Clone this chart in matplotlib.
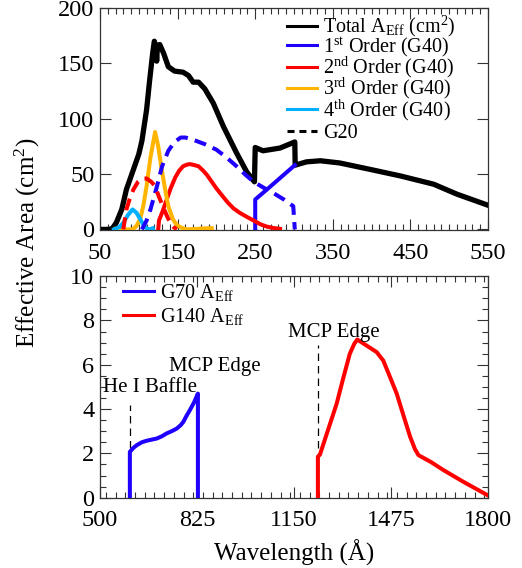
import numpy as np
import matplotlib
matplotlib.use("Agg")
import matplotlib.pyplot as plt
from matplotlib.lines import Line2D
from matplotlib.ticker import MultipleLocator

plt.rcParams['font.family'] = ['Liberation Serif', 'DejaVu Serif']
plt.rcParams['mathtext.fontset'] = 'custom'
plt.rcParams['mathtext.rm'] = 'Liberation Serif'
plt.rcParams['mathtext.it'] = 'Liberation Serif:italic'
plt.rcParams['mathtext.bf'] = 'Liberation Serif:bold'

# --- top panel: G40 / G20 effective area (cm^2) vs wavelength (A) ---
lam_total = [50, 62, 66, 71, 78, 84, 93, 100, 104, 110, 114, 118, 120, 122, 123, 124,
             127, 132, 138, 146, 157, 164, 170, 177, 185, 196, 209, 226, 239, 249,
             250, 260, 282, 301, 301.5, 316, 334, 359, 402, 437, 480, 510, 550]
a_total = [0, 0, 1, 6, 18, 36, 54, 68, 80, 108, 135, 160, 170, 165, 152, 166,
           167, 159, 147, 143, 142, 139, 133, 133, 127, 114, 93, 69, 52, 43,
           74, 71, 73.5, 79, 58, 61, 62, 60, 53.6, 48.3, 40.8, 31.8, 21.8]

lam_o1 = [250, 250, 265, 301]
a_o1 = [0, 27, 36, 58]

lam_o2 = [125, 126, 131, 136, 141, 147, 152, 157, 162, 166, 172, 177, 183, 188, 194,
          200, 208, 215, 222, 230, 240, 248, 257, 265, 274, 282]
a_o2 = [0, 8, 17, 27, 37, 47, 53, 57, 58.5, 59, 58, 57, 53, 49, 43,
        37, 30, 24, 19, 15, 11, 8, 4.5, 2.5, 1.2, 0.5]

lam_o3 = [70, 80, 92, 97, 102, 106, 110, 115, 121, 125, 129.5, 134, 138, 144, 149,
          155, 162, 175, 188, 194]
a_o3 = [0.5, 0, 0, 3, 10, 22, 39, 65, 88, 75, 54, 36, 21, 9, 4,
        1.5, 0, 0.5, 1, 1]

lam_o4 = [68, 75, 80, 86, 92, 97, 102, 106, 110, 113, 118]
a_o4 = [0, 2, 6, 13, 18, 15, 9, 4, 1, 0, 1]

lam_g20_o1 = [104, 110, 115, 123, 130, 138, 146, 154, 160, 170, 185, 200, 213, 226,
              238, 248, 260, 273, 287, 299, 301]
a_g20_o1 = [0, 8, 18, 38, 57, 71, 79, 83, 83, 81, 77, 72, 65, 57,
            49, 43, 38, 33, 27, 21, 0]

lam_g20_o2 = [80, 84, 88, 93, 99, 104, 110, 116, 120, 124, 128, 132, 137, 141, 145, 149]
a_g20_o2 = [0, 18, 27, 36, 43, 46, 46, 43, 40, 33, 26, 19, 11, 5, 2, 0]

# --- bottom panel: G70 / G140 ---
lam_g70 = [600, 600, 612, 623, 640, 656, 673, 690, 707, 723, 740, 757, 770, 779,
           790, 801, 815, 828, 828]
a_g70 = [0, 2.07, 2.25, 2.37, 2.5, 2.57, 2.62, 2.67, 2.77, 2.9, 3.0, 3.12, 3.27, 3.42,
         3.7, 3.95, 4.3, 4.7, 0]

lam_g140 = [1230, 1230, 1237, 1265, 1293, 1315, 1337, 1352, 1362, 1395, 1427, 1449,
            1470, 1494, 1517, 1539, 1555, 1567, 1610, 1650, 1717, 1800]
a_g140 = [0, 1.85, 1.95, 3.1, 4.25, 5.4, 6.5, 6.95, 7.14, 6.85, 6.57, 6.19,
          5.5, 4.7, 3.7, 2.75, 2.2, 1.92, 1.6, 1.25, 0.72, 0.1]

edge_lam = [600, 828, 1230]
edge_top = [4.17, 4.7, 6.9]
edge_names = ["He I Baffle", "MCP Edge", "MCP Edge"]
edge_text_pos = [(511, 4.77), (732, 5.74), (1131, 7.27)]

BLUE = '#1f00ff'
RED = '#ff0000'
ORANGE = '#ffb400'
CYAN = '#00b0ff'
G20_DASH = (3.0, 1.8)
LEG_KW = dict(frameon=False, fontsize=14.5, handlelength=1.5, handletextpad=0.3,
              borderpad=0.0, borderaxespad=0.0)

fig = plt.figure(figsize=(5.22, 5.68), dpi=100)
ax1 = fig.add_axes([0.1916, 0.5942, 0.7433, 0.3917])
ax2 = fig.add_axes([0.1916, 0.1238, 0.7433, 0.3900])

ax1.plot(lam_total, a_total, color='k', lw=3.8, zorder=2)
ax1.plot(lam_o1, a_o1, color=BLUE, lw=2.9, zorder=3)
ax1.plot(lam_o2, a_o2, color=RED, lw=2.9, zorder=3)
ax1.plot(lam_o3, a_o3, color=ORANGE, lw=2.9, zorder=3)
ax1.plot(lam_o4, a_o4, color=CYAN, lw=2.9, zorder=3)
ax1.plot(lam_g20_o1, a_g20_o1, color=BLUE, lw=2.9, dashes=G20_DASH, zorder=3)
ax1.plot(lam_g20_o2, a_g20_o2, color=RED, lw=2.9, dashes=G20_DASH, zorder=3)

# the G40 orders all carry superscripts, so they get their own legend
# and the plain G20 entry sits in a second one just below
handles = [Line2D([], [], color='k', lw=2.2),
           Line2D([], [], color=BLUE, lw=2.2),
           Line2D([], [], color=RED, lw=2.2),
           Line2D([], [], color=ORANGE, lw=2.2),
           Line2D([], [], color=CYAN, lw=2.2)]
labels = [r"Total A$_{\mathrm{Eff}}$ (cm$^{2}$)",
          r"1$^{\mathrm{st}}$ Order (G40)",
          r"2$^{\mathrm{nd}}$ Order (G40)",
          r"3$^{\mathrm{rd}}$ Order (G40)",
          r"4$^{\mathrm{th}}$ Order (G40)"]
leg1 = ax1.legend(handles, labels, loc='upper left', bbox_to_anchor=(0.482, 0.972),
                  labelspacing=-0.2, **LEG_KW)
ax1.add_artist(leg1)
ax1.legend([Line2D([], [], color='k', lw=2.2, dashes=(2.3, 1.6))], ["G20"],
           loc='upper left', bbox_to_anchor=(0.482, 0.479), **LEG_KW)

ax1.set_xlim(50, 550)
ax1.set_ylim(-1, 200)
ax1.set_xticks([50, 150, 250, 350, 450, 550])
ax1.xaxis.set_minor_locator(MultipleLocator(10))
ax1.set_yticks([0, 50, 100, 150, 200])

# bottom panel
ax2.vlines(edge_lam, 0, edge_top, colors='k', lw=0.9, linestyles=(0, (6, 4)), zorder=1)
ax2.plot(lam_g70, a_g70, color=BLUE, lw=2.9, label=r"G70 A$_{\mathrm{Eff}}$", zorder=3)
ax2.plot(lam_g140, a_g140, color=RED, lw=2.9, label=r"G140 A$_{\mathrm{Eff}}$", zorder=3)
for name, (tx, ty) in zip(edge_names, edge_text_pos):
    ax2.text(tx, ty, name, fontsize=15, ha='left', va='baseline')

leg2 = ax2.legend(loc='upper left', bbox_to_anchor=(0.06, 0.972), labelspacing=0.15,
                  **LEG_KW)
for ln in leg2.get_lines():
    ln.set_linewidth(2.2)

ax2.set_xlim(500, 1800)
ax2.set_ylim(0, 10)
ax2.set_xticks([500, 825, 1150, 1475, 1800])
ax2.xaxis.set_minor_locator(MultipleLocator(32.5))
ax2.set_yticks([0, 2, 4, 6, 8, 10])
ax2.yaxis.set_minor_locator(MultipleLocator(0.5))

for ax in (ax1, ax2):
    ax.tick_params(which='both', direction='in', top=True, right=True,
                   labelsize=17.5, width=0.8, color='#333333')
    ax.tick_params(which='major', length=8)
    ax.tick_params(which='minor', length=4)
    ax.tick_params(axis='x', pad=9)
    ax.tick_params(axis='y', pad=4)
    for sp in ax.spines.values():
        sp.set_linewidth(0.9)
        sp.set_color('#333333')

ax2.set_xlabel("Wavelength (Å)", fontsize=18, labelpad=6)
fig.text(0.052, 0.573, "Effective Area (cm$^{2}$)", fontsize=18, rotation=90,
         ha='center', va='center')

fig.savefig("out.png", dpi=100)
